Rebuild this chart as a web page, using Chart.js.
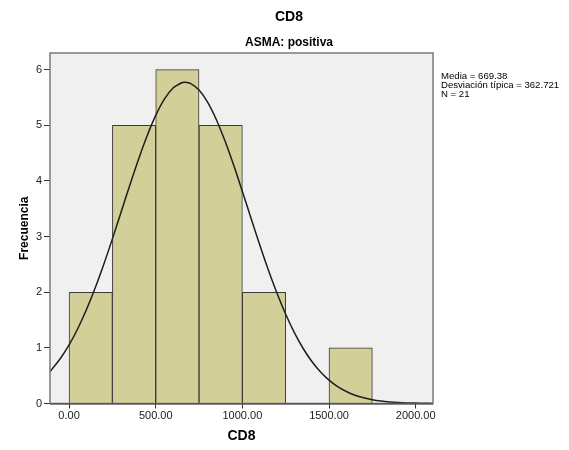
<!DOCTYPE html>
<html>
<head>
<meta charset="utf-8">
<script src="https://cdn.jsdelivr.net/npm/chart.js@4.4.1/dist/chart.umd.min.js"></script>
<style>
  html, body { margin: 0; padding: 0; background: #ffffff; }
  #wrap { width: 569px; height: 450px; position: relative; }
</style>
</head>
<body>
<div id="wrap"><canvas id="c" width="569" height="450"></canvas></div>
<script>
// ---- Data ----
const titleText = "CD8";
const subtitleText = "ASMA: positiva";
const xAxisTitle = "CD8";
const yAxisTitle = "Frecuencia";

// histogram bins (centre of each 250-wide bin) and frequencies
const binCenters = [125, 375, 625, 875, 1125, 1375, 1625];
const frequencies = [2, 5, 6, 5, 2, 0, 1];

// fitted normal curve
const curveX = [-110, -50, 0, 50, 100, 150, 200, 250, 300, 350, 400, 450, 500, 550, 600, 650, 669.38, 700, 750, 800, 850, 900, 950, 1000, 1050, 1100, 1150, 1200, 1250, 1300, 1350, 1400, 1450, 1500, 1550, 1600, 1650, 1700, 1750, 1800, 1850, 1900, 1950, 2000, 2050, 2100];
const curveY = [0.574, 0.808, 1.052, 1.344, 1.684, 2.071, 2.499, 2.959, 3.438, 3.919, 4.382, 4.809, 5.178, 5.470, 5.670, 5.766, 5.774, 5.754, 5.633, 5.412, 5.101, 4.717, 4.281, 3.811, 3.330, 2.854, 2.400, 1.981, 1.604, 1.274, 0.993, 0.759, 0.570, 0.420, 0.303, 0.215, 0.149, 0.102, 0.068, 0.045, 0.029, 0.018, 0.011, 0.007, 0.004, 0.002];

// tick labels
const xTickValues = [0, 500, 1000, 1500, 2000];
const yTickValues = [0, 1, 2, 3, 4, 5, 6];

// statistics box
const statLines = ["Media = 669.38", "Desviación típica = 362.721", "N = 21"];

// ---- Chart ----
const FONT = "'Liberation Sans', Arial, sans-serif";
const barPoints = binCenters.map((x, i) => ({ x: x, y: frequencies[i] }));
const curvePoints = curveX.map((x, i) => ({ x: x, y: curveY[i] }));

const framePlugin = {
  id: 'frame',
  beforeDraw(chart) {
    const { ctx, chartArea: a } = chart;
    ctx.save();
    ctx.fillStyle = '#f0f0f0';
    ctx.fillRect(a.left, a.top, a.right - a.left, a.bottom - a.top);
    ctx.restore();
  },
  afterDraw(chart) {
    const { ctx, chartArea: a } = chart;
    ctx.save();
    ctx.strokeStyle = '#7a7a7a';
    ctx.lineWidth = 1.5;
    ctx.strokeRect(a.left, a.top, a.right - a.left, a.bottom - a.top);
    ctx.strokeStyle = '#333333';
    ctx.lineWidth = 1;
    ctx.beginPath();
    ctx.moveTo(a.left, a.bottom + 0.5);
    ctx.lineTo(a.right, a.bottom + 0.5);
    ctx.stroke();
    // titles
    ctx.fillStyle = '#000000';
    ctx.textAlign = 'center';
    ctx.textBaseline = 'middle';
    ctx.font = "bold 14px " + FONT;
    ctx.fillText(titleText, 289, 17);
    ctx.font = "bold 12px " + FONT;
    ctx.fillText(subtitleText, 289, 43);
    // stats
    ctx.textAlign = 'left';
    ctx.font = "9.6px " + FONT;
    statLines.forEach((s, i) => ctx.fillText(s, 441, 76 + i * 9.3));
    ctx.restore();
  }
};

new Chart(document.getElementById('c'), {
  data: {
    datasets: [
      {
        type: 'line',
        data: curvePoints,
        borderColor: '#1e1e1e',
        borderWidth: 1.5,
        pointRadius: 0,
        tension: 0.3,
        fill: false,
        order: 0
      },
      {
        type: 'bar',
        data: barPoints,
        backgroundColor: '#d3cf98',
        borderColor: '#3a3a3a',
        borderWidth: 1,
        barPercentage: 1,
        categoryPercentage: 1,
        order: 1
      }
    ]
  },
  options: {
    responsive: false,
    animation: false,
    events: [],
    layout: { padding: { top: 53, right: 136, left: 0, bottom: 0 } },
    plugins: { legend: { display: false }, tooltip: { enabled: false } },
    scales: {
      x: {
        type: 'linear',
        offset: false,
        min: -110,
        max: 2100,
        afterBuildTicks(scale) { scale.ticks = xTickValues.map(v => ({ value: v })); },
        afterFit(scale) { scale.height = 46.5; },
        grid: { display: true, offset: false, drawOnChartArea: false, drawTicks: true, tickLength: 5, color: '#333333' },
        border: { display: false },
        ticks: {
          color: '#222222',
          font: { family: FONT, size: 11 },
          padding: 1,
          maxRotation: 0,
          callback: v => Number(v).toFixed(2)
        },
        title: {
          display: true,
          text: xAxisTitle,
          color: '#000000',
          font: { family: FONT, size: 14, weight: 'bold' },
          padding: { top: 0, bottom: 5 }
        }
      },
      y: {
        type: 'linear',
        min: 0,
        max: 6.3,
        afterBuildTicks(scale) { scale.ticks = yTickValues.map(v => ({ value: v })); },
        afterFit(scale) { scale.width = 50; },
        grid: { display: true, drawOnChartArea: false, drawTicks: true, tickLength: 6, color: '#333333' },
        border: { display: false },
        ticks: {
          color: '#222222',
          font: { family: FONT, size: 11 },
          padding: 2
        },
        title: {
          display: true,
          text: yAxisTitle,
          color: '#000000',
          font: { family: FONT, size: 12, weight: 'bold' },
          padding: { top: 17, bottom: 0 }
        }
      }
    }
  },
  plugins: [framePlugin]
});
</script>
</body>
</html>
